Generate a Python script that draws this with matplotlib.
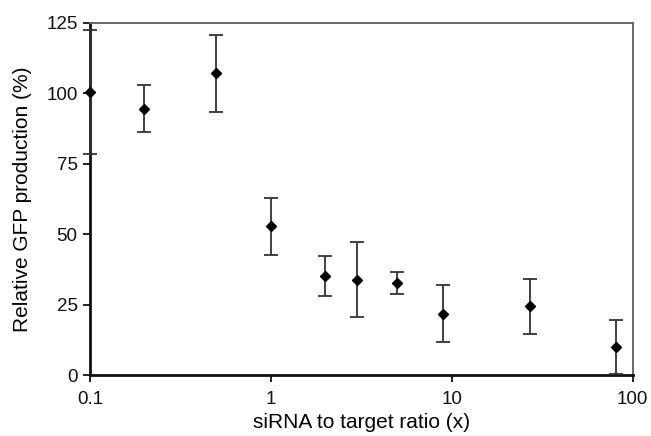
import matplotlib
matplotlib.use("Agg")
import matplotlib.pyplot as plt
import numpy as np

ratio = [0.1, 0.2, 0.5, 1, 2, 3, 5, 9, 27, 81]
gfp = [100.5, 94.5, 107.0, 52.8, 35.3, 34.0, 32.8, 21.8, 24.5, 10.0]
err = [22.0, 8.3, 13.7, 10.2, 7.0, 13.3, 4.0, 10.1, 9.7, 9.6]

plt.rcParams['font.family'] = ['Liberation Sans', 'DejaVu Sans']

fig = plt.figure(figsize=(6.51, 4.36), dpi=100)
ax = fig.add_axes([0.1383, 0.1388, 0.8334, 0.8092])

ax.errorbar(ratio, gfp, yerr=err, fmt='D', color='black', markersize=5,
            ecolor='#333333', elinewidth=1.3, capsize=5, capthick=1.3,
            clip_on=False, zorder=3)

ax.set_xscale('log')
ax.set_xlim(0.1, 100)
ax.set_ylim(0, 125)
ax.set_yticks([0, 25, 50, 75, 100, 125])
ax.set_xticks([0.1, 1, 10, 100])
ax.set_xticklabels(['0.1', '1', '10', '100'])
ax.xaxis.set_minor_locator(matplotlib.ticker.NullLocator())

for s in ['left', 'bottom']:
    ax.spines[s].set_linewidth(2.0)
    ax.spines[s].set_color('#111111')
for s in ['top', 'right']:
    ax.spines[s].set_linewidth(1.4)
    ax.spines[s].set_color('#666666')

ax.tick_params(axis='both', direction='out', length=5, width=1.3,
               labelsize=13.5, colors='#111111', pad=4)
ax.tick_params(axis='x', pad=6)

ax.set_xlabel('siRNA to target ratio (x)', fontsize=15, labelpad=4)
ax.set_ylabel('Relative GFP production (%)', fontsize=15, labelpad=10)

fig.savefig('out.png', dpi=100)
